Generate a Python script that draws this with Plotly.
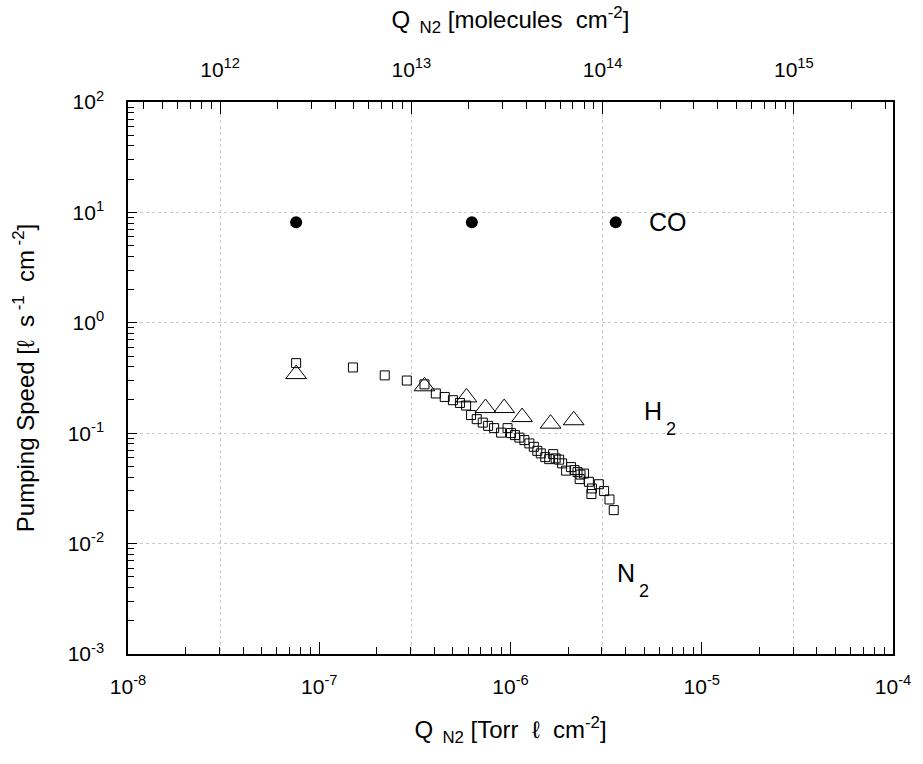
import numpy as np
import plotly.graph_objects as go

# ---------------- data ----------------
# N2 pumping speed vs coverage (Torr l cm^-2 , l s^-1 cm^-2)
n2_q = [7.57e-8, 1.50e-7, 2.20e-7, 2.87e-7, 3.55e-7, 4.07e-7, 4.53e-7, 5.00e-7,
        5.44e-7, 5.86e-7, 6.22e-7, 6.66e-7, 7.16e-7, 7.64e-7, 8.21e-7, 8.93e-7,
        9.65e-7, 1.006e-6, 1.055e-6, 1.113e-6, 1.182e-6, 1.255e-6, 1.324e-6,
        1.381e-6, 1.440e-6, 1.520e-6, 1.594e-6, 1.672e-6, 1.722e-6, 1.796e-6,
        1.862e-6, 1.953e-6, 2.073e-6, 2.162e-6, 2.241e-6, 2.300e-6, 2.323e-6,
        2.422e-6, 2.570e-6, 2.664e-6, 2.649e-6, 2.897e-6, 3.087e-6, 3.293e-6,
        3.466e-6]
n2_s = [0.431, 0.394, 0.334, 0.300, 0.277, 0.229, 0.213, 0.199,
        0.188, 0.178, 0.146, 0.134, 0.1247, 0.1166, 0.1112, 0.1012,
        0.1112, 0.1002, 0.0961, 0.0912, 0.0866, 0.0808, 0.0753,
        0.0692, 0.0656, 0.0607, 0.0582, 0.0646, 0.0591, 0.0576,
        0.0533, 0.0458, 0.0493, 0.0463, 0.0444, 0.0384, 0.0422,
        0.0431, 0.0363, 0.0316, 0.0281, 0.0345, 0.0299, 0.0251,
        0.0201]

# H2
h2_q = [7.57e-8, 3.55e-7, 5.89e-7, 7.40e-7, 9.27e-7, 1.15e-6, 1.62e-6, 2.14e-6]
h2_s = [0.343, 0.266, 0.211, 0.169, 0.169, 0.140, 0.122, 0.131]

# CO
co_q = [7.57e-8, 6.28e-7, 3.55e-6]
co_s = [8.15, 8.15, 8.15]

# conversion Torr l -> molecules (top axis)
TORR_L_TO_MOLEC = 3.3e19

x_range_log = [-8, -4]
y_range_log = [-3, 2]
bottom_ticks = [1e-8, 1e-7, 1e-6, 1e-5, 1e-4]
bottom_text = ["10<sup>-8</sup>", "10<sup>-7</sup>", "10<sup>-6</sup>", "10<sup>-5</sup>", "10<sup>-4</sup>"]
top_ticks = [1e12, 1e13, 1e14, 1e15]
top_text = ["10<sup>12</sup>", "10<sup>13</sup>", "10<sup>14</sup>", "10<sup>15</sup>"]
left_ticks = [1e-3, 1e-2, 1e-1, 1e0, 1e1, 1e2]
left_text = ["10<sup>-3</sup>", "10<sup>-2</sup>", "10<sup>-1</sup>", "10<sup>0</sup>", "10<sup>1</sup>", "10<sup>2</sup>"]

# series labels: (main text, subscript, Q position, S position)
labels = [("CO", "", 5.2e-6, 8.15), ("H", "2", 4.85e-6, 0.158), ("N", "2", 3.5e-6, 0.0054)]

FONT = "Liberation Sans, Arial, sans-serif"


def minor_vals(lo, hi):
    return [m * 10.0 ** e for e in range(lo, hi) for m in range(2, 10)]


fig = go.Figure()
fig.add_trace(go.Scatter(x=n2_q, y=n2_s, mode="markers", name="N2",
                         marker=dict(symbol="square-open", size=9, color="black",
                                     line=dict(width=1, color="black"))))
fig.add_trace(go.Scatter(x=h2_q, y=h2_s, mode="markers", name="H2",
                         marker=dict(symbol="triangle-up-open", size=18, color="black",
                                     line=dict(width=1, color="black"))))
fig.add_trace(go.Scatter(x=co_q, y=co_s, mode="markers", name="CO",
                         marker=dict(symbol="circle", size=12, color="black")))
# empty trace to activate the top axis
fig.add_trace(go.Scatter(x=[], y=[], xaxis="x2", yaxis="y", showlegend=False))

grid = dict(gridcolor="#c8c8c8", gridwidth=1, griddash="3px,3px")
tickfont = dict(family=FONT, size=21, color="black")
titlefont = dict(family=FONT, size=24, color="black")

fig.update_layout(
    width=923, height=764,
    margin=dict(l=128, r=25, t=102, b=110),
    paper_bgcolor="white", plot_bgcolor="white",
    showlegend=False,
    font=dict(family=FONT, color="black"),
    xaxis=dict(
        type="log", range=x_range_log,
        tickmode="array", tickvals=bottom_ticks, ticktext=bottom_text,
        ticks="inside", ticklen=12, tickwidth=1, tickcolor="black",
        minor=dict(ticks="inside", ticklen=7, tickwidth=1, tickcolor="black",
                   tickmode="array", tickvals=minor_vals(-8, -4), showgrid=False),
        showgrid=False, zeroline=False,
        showline=True, linecolor="black", linewidth=1.5,
        tickfont=tickfont, ticklabelstandoff=13,
        title=dict(text="Q<sub>  N2</sub> [Torr  ℓ  cm<sup>-2</sup>]",
                   font=titlefont, standoff=24),
    ),
    xaxis2=dict(
        type="log", overlaying="x", side="top",
        range=[x_range_log[0] + np.log10(TORR_L_TO_MOLEC), x_range_log[1] + np.log10(TORR_L_TO_MOLEC)],
        tickmode="array", tickvals=top_ticks, ticktext=top_text,
        ticks="inside", ticklen=12, tickwidth=1, tickcolor="black",
        minor=dict(ticks="inside", ticklen=7, tickwidth=1, tickcolor="black",
                   tickmode="array", tickvals=minor_vals(11, 16), showgrid=False),
        showgrid=True, **grid, zeroline=False,
        showline=True, linecolor="black", linewidth=1.5,
        tickfont=tickfont, ticklabelstandoff=15,
        title=dict(text="Q<sub>  N2</sub> [molecules  cm<sup>-2</sup>]",
                   font=titlefont, standoff=20),
    ),
    yaxis=dict(
        type="log", range=y_range_log,
        tickmode="array", tickvals=left_ticks, ticktext=left_text,
        ticks="inside", ticklen=9, tickwidth=1, tickcolor="black",
        minor=dict(ticks="inside", ticklen=6, tickwidth=1, tickcolor="black",
                   tickmode="array", tickvals=minor_vals(-3, 2), showgrid=False),
        showgrid=True, **grid, zeroline=False,
        showline=True, mirror=True, linecolor="black", linewidth=1.5,
        tickfont=tickfont, ticklabelstandoff=18,
        title=dict(text="Pumping Speed [ℓ  s<sup> -1</sup>  cm<sup> -2</sup>]",
                   font=titlefont, standoff=26),
    ),
)

for main, sub, xv, yv in labels:
    fig.add_annotation(text=main, x=np.log10(xv), y=np.log10(yv), xref="x", yref="y",
                       xanchor="left", showarrow=False,
                       font=dict(family=FONT, size=25, color="black"))
    if sub:
        fig.add_annotation(text=sub, x=np.log10(xv), y=np.log10(yv), xref="x", yref="y",
                           xanchor="left", xshift=22, yshift=-18, showarrow=False,
                           font=dict(family=FONT, size=18, color="black"))

fig.write_html("out.html")
